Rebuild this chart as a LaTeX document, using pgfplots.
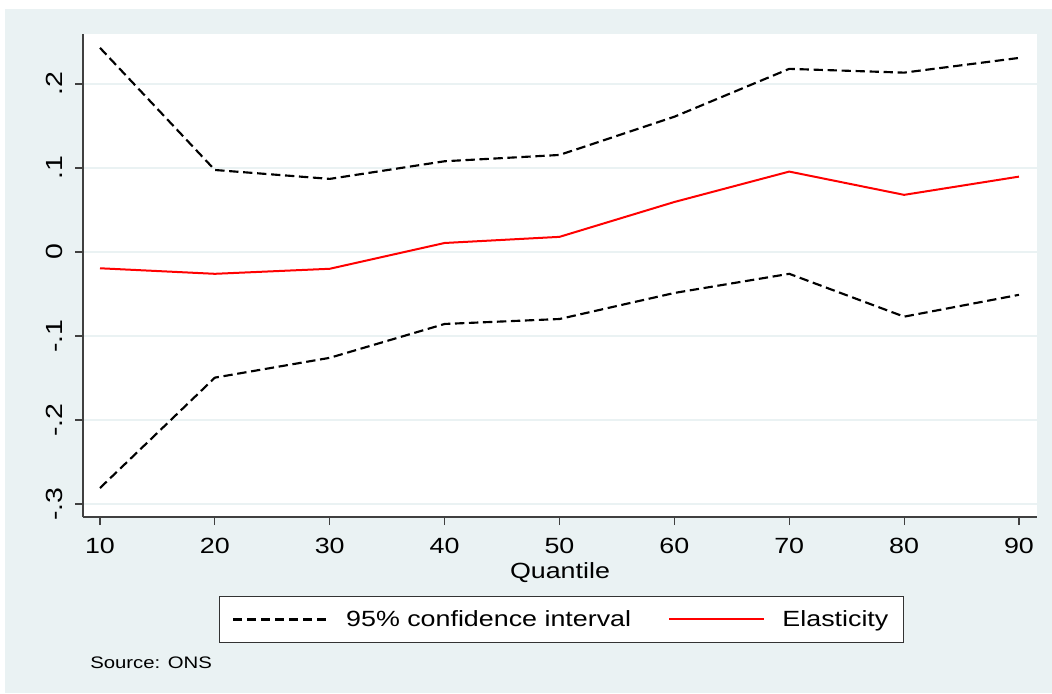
\documentclass[border=0pt]{standalone}
\usepackage{pgfplots}
\pgfplotsset{compat=1.18}
\usepackage{fontspec}
\setmainfont[FakeStretch=1.22]{Liberation Sans}
\definecolor{bg}{HTML}{EAF2F3}
\definecolor{gridc}{HTML}{EAF2F3}
\definecolor{axisc}{HTML}{404040}
\begin{document}
\begin{tikzpicture}
\fill[white] (0,0) rectangle (789pt,519.75pt);
\fill[bg] (3.75pt,0) rectangle (789pt,513pt);
\begin{axis}[
  at={(62.25pt,132pt)}, anchor=south west,
  scale only axis, width=715.5pt, height=362.25pt,
  xmin=8.52, xmax=91.57, ymin=-0.3155, ymax=0.2595,
  axis background/.style={fill=white},
  axis lines*=left,
  axis line style={color=axisc, line width=0.8pt},
  tick align=outside, major tick length=6pt,
  tick style={color=axisc, line width=0.8pt},
  xtick={10,20,...,90},
  ytick={-0.3,-0.2,-0.1,0,0.1,0.2},
  yticklabels={-.3,-.2,-.1,0,.1,.2},
  /pgf/number format/assume math mode=true,
  ticklabel style={font=\fontsize{16.5}{18}\selectfont},
  yticklabel style={rotate=90, anchor=south, font=\fontsize{17.5}{19}\selectfont},
  yticklabel shift=5.5pt,
  xticklabel shift=6pt,
  ymajorgrids, grid style={color=gridc, line width=1.1pt},
  xlabel={Quantile},
  xlabel style={font=\fontsize{16.5}{18}\selectfont, at={(axis description cs:0.5,-0.1263)}, anchor=base},
  legend columns=2,
  legend style={at={(axis description cs:0.5016,-0.2122)}, anchor=center,
    draw=black!80, line width=0.6pt, fill=white, font=\fontsize{16.5}{18}\selectfont,
    inner xsep=9.5pt, inner ysep=8.5pt,
    /tikz/every even column/.append style={column sep=26pt}},
  legend image code/.code={\draw[#1] (0pt,0pt) -- (71pt,0pt); \path (82pt,0pt);},
]
\addplot[black, line width=1.6pt, dash pattern=on 7pt off 3.5pt] coordinates {
(10,0.243) (20,0.0976) (30,0.087) (40,0.108) (50,0.1155) (60,0.161) (70,0.218) (80,0.2135) (90,0.231)};
\addlegendentry{95\% confidence interval}
\addplot[red, line width=1.5pt] coordinates {
(10,-0.0194) (20,-0.026) (30,-0.020) (40,0.0107) (50,0.018) (60,0.0595) (70,0.0957) (80,0.068) (90,0.0897)};
\addlegendentry{Elasticity}
\addplot[black, line width=1.6pt, dash pattern=on 7pt off 3.5pt, forget plot] coordinates {
(10,-0.281) (20,-0.1496) (30,-0.126) (40,-0.0857) (50,-0.0798) (60,-0.0488) (70,-0.026) (80,-0.077) (90,-0.051)};
\end{axis}
\node[anchor=base west, inner sep=0, font=\fontsize{12.5}{14}\selectfont] at (67.5pt,18.75pt) {Source: ONS};
\end{tikzpicture}
\end{document}
